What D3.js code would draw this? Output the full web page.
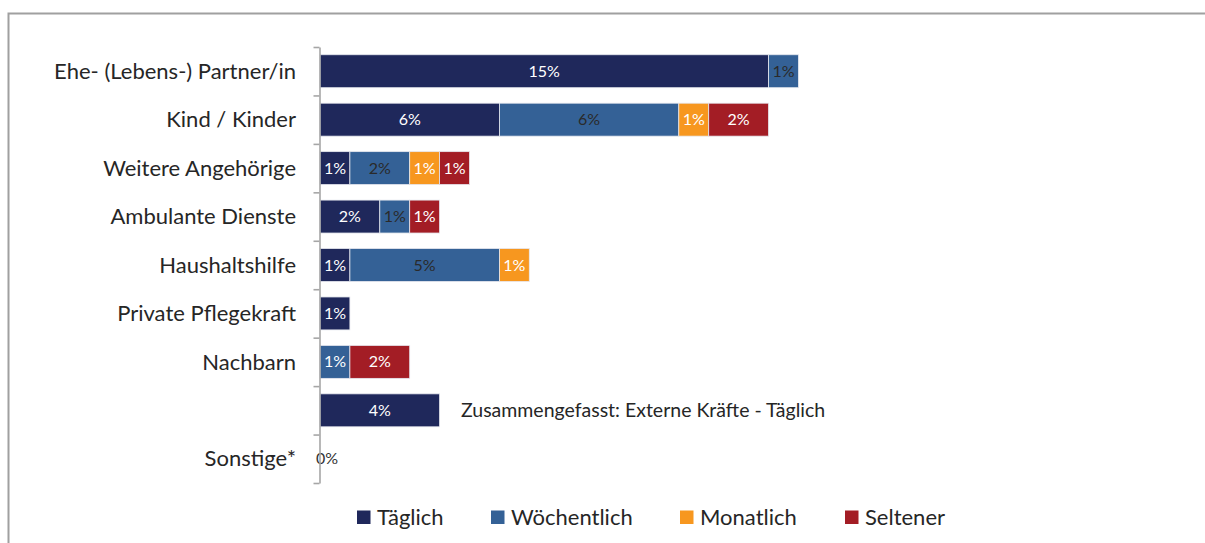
<!DOCTYPE html>
<html>
<head>
<meta charset="utf-8">
<script src="https://cdn.jsdelivr.net/npm/d3@7"></script>
<style>
  body { margin: 0; background: #fff; }
  svg { font-family: Lato, "Open Sans", sans-serif; }
</style>
</head>
<body>
<svg id="chart" width="1205" height="543"></svg>
<script>
// data (percent)
const categories = ["Ehe- (Lebens-) Partner/in", "Kind / Kinder", "Weitere Angehörige",
    "Ambulante Dienste", "Haushaltshilfe", "Private Pflegekraft", "Nachbarn", "", "Sonstige*"];
const taeglich     = [15, 6, 1, 2, 1, 1, 0, 4, 0];
const woechentlich = [1, 6, 2, 1, 5, 0, 1, 0, 0];
const monatlich    = [0, 1, 1, 0, 1, 0, 0, 0, 0];
const seltener     = [0, 2, 1, 1, 0, 0, 2, 0, 0];
const seriesNames  = ["Täglich", "Wöchentlich", "Monatlich", "Seltener"];
const annotation   = "Zusammengefasst: Externe Kräfte - Täglich";

const colors = ["#1f285b", "#346196", "#f7971f", "#a31d25"];

let chart = d3.select("#chart");

// frame
chart.append("rect")
    .attr("x", 8.5).attr("y", 13.5)
    .attr("width", 1220).attr("height", 560)
    .attr("fill", "none")
    .attr("stroke", "#a0a0a0")
    .attr("stroke-width", 2);

// scales
let x = d3.scaleLinear().domain([0, 16]).range([320, 798.4]);
let idx = d3.range(categories.length);
let y = d3.scaleBand().domain(idx).range([47, 483])
    .paddingInner(0.32).paddingOuter(0.16);
let yEdge = d3.scaleLinear().domain([0, categories.length]).range([47, 483]);

// stacked data
let rows = idx.map(i => ({ i: i, Täglich: taeglich[i], Wöchentlich: woechentlich[i],
    Monatlich: monatlich[i], Seltener: seltener[i] }));
let stack = d3.stack().keys(seriesNames)(rows);

// bars
stack.forEach((s, k) => {
    chart.append("g").selectAll("rect")
        .data(s.filter(d => d[1] - d[0] > 0)).enter()
        .append("rect")
        .attr("x", d => x(d[0]))
        .attr("y", d => y(d.data.i))
        .attr("width", d => x(d[1]) - x(d[0]))
        .attr("height", y.bandwidth())
        .attr("fill", colors[k])
        .attr("stroke", "#e6e8ef")
        .attr("stroke-width", 0.8);
});

// value labels
stack.forEach((s, k) => {
    chart.append("g").selectAll("text")
        .data(s.filter(d => d[1] - d[0] > 0 || (k == 0 && d.data.i == 8))).enter()
        .append("text")
        .attr("x", d => d[1] - d[0] > 0 ? (x(d[0]) + x(d[1])) / 2 : x(0) + 7)
        .attr("y", d => y(d.data.i) + y.bandwidth() / 2)
        .attr("dy", "0.35em")
        .attr("text-anchor", "middle")
        .attr("fill", d => {
            if (d[1] - d[0] == 0) return "#333";
            if (k == 1 && d.data.i != 6) return "#2a2a2a";
            return "#fff";
        })
        .style("font-size", "16px")
        .text(d => (d[1] - d[0]) + "%");
});

// axis with ticks between categories
chart.append("g")
    .attr("transform", "translate(319.5,0)")
    .call(d3.axisLeft(yEdge).tickValues(d3.range(categories.length + 1))
        .tickFormat("").tickSize(6).tickSizeOuter(0))
    .call(g => g.selectAll("path, line").attr("stroke", "#a6a6a6").attr("stroke-width", 1.6));

// category labels
chart.append("g").selectAll("text")
    .data(idx).enter()
    .append("text")
    .attr("x", 296)
    .attr("y", i => y(i) + y.bandwidth() / 2)
    .attr("dy", "0.35em")
    .attr("text-anchor", "end")
    .attr("fill", "#262626")
    .style("font-size", "22px")
    .text(i => categories[i]);

// annotation next to the summary bar
chart.append("text")
    .attr("x", 461)
    .attr("y", y(7) + y.bandwidth() / 2)
    .attr("dy", "0.35em")
    .attr("fill", "#262626")
    .style("font-size", "19.5px")
    .text(annotation);

// legend
const legendX = [357, 491, 680, 845];
seriesNames.forEach((n, k) => {
    chart.append("rect")
        .attr("x", legendX[k]).attr("y", 510.5)
        .attr("width", 13.5).attr("height", 13.5)
        .attr("fill", colors[k]);
    chart.append("text")
        .attr("x", legendX[k] + 20).attr("y", 517)
        .attr("dy", "0.35em")
        .attr("fill", "#262626")
        .style("font-size", "22px")
        .text(n);
});
</script>
</body>
</html>
